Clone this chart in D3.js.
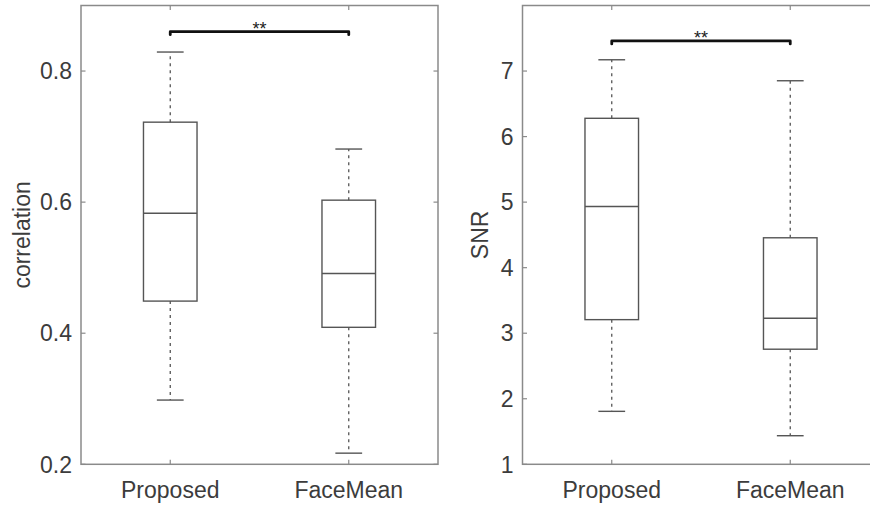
<!DOCTYPE html>
<html>
<head>
<meta charset="utf-8">
<script src="https://cdn.jsdelivr.net/npm/d3@7"></script>
<style>
  html, body { margin: 0; padding: 0; background: #fff; overflow: hidden; width: 870px; height: 506px; }
  svg { display: block; overflow: hidden; font-family: "Liberation Sans", Arial, sans-serif; }
</style>
</head>
<body>
<svg id="chart" width="870" height="506" viewBox="0 0 870 506"></svg>
<script>
// ---- data ----
const categories = ["Proposed", "FaceMean"];

// correlation box stats: [lowerWhisker, q1, median, q3, upperWhisker]
const correlationStats = [
  [0.298, 0.449, 0.583, 0.722, 0.829],
  [0.217, 0.409, 0.491, 0.603, 0.681]
];
const correlationTicks = [0.2, 0.4, 0.6, 0.8];
const correlationSignif = { from: "Proposed", to: "FaceMean", y: 0.860, label: "**" };

// SNR box stats
const snrStats = [
  [1.808, 3.207, 4.933, 6.279, 7.172],
  [1.436, 2.756, 3.229, 4.456, 6.852]
];
const snrTicks = [1, 2, 3, 4, 5, 6, 7];
const snrSignif = { from: "Proposed", to: "FaceMean", y: 7.46, label: "**" };

// ---- drawing ----
const svgRoot = d3.select("#chart");
svgRoot.append("defs").append("clipPath").attr("id", "pageClip")
  .append("rect").attr("x", 0).attr("y", 0).attr("width", 870).attr("height", 506);
const svg = svgRoot.append("g").attr("clip-path", "url(#pageClip)");

const axisColor = "#8a8a8a";
const boxColor = "#555";
const textColor = "#3c3c3c";
const fontSize = 23;

function panel(opts) {
  const { left, right, top, bottom, yDomain, ticks, tickFmt, stats, signif, ylabel, ylabelX } = opts;
  const g = svg.append("g");
  const x = d3.scaleLinear().domain([0.5, categories.length + 0.5]).range([left, right]);
  const y = d3.scaleLinear().domain(yDomain).range([bottom, top]);
  const xPos = d => x(categories.indexOf(d) + 1);
  const tl = 4.5;

  // box frame
  g.append("rect").attr("x", left).attr("y", top)
    .attr("width", right - left).attr("height", bottom - top)
    .attr("fill", "none").attr("stroke", axisColor).attr("stroke-width", 1.5);

  // y ticks (inward both sides)
  ticks.forEach(t => {
    g.append("line").attr("x1", left).attr("x2", left + tl)
      .attr("y1", y(t)).attr("y2", y(t)).attr("stroke", axisColor).attr("stroke-width", 1.2);
    g.append("line").attr("x1", right).attr("x2", right - tl)
      .attr("y1", y(t)).attr("y2", y(t)).attr("stroke", axisColor).attr("stroke-width", 1.2);
    g.append("text").attr("x", left - 9).attr("y", y(t)).attr("dy", "0.36em")
      .attr("text-anchor", "end").attr("font-size", fontSize).attr("fill", textColor)
      .text(tickFmt(t));
  });

  // x ticks (inward top & bottom) + labels
  categories.forEach(c => {
    const cx = xPos(c);
    g.append("line").attr("x1", cx).attr("x2", cx).attr("y1", bottom).attr("y2", bottom - tl)
      .attr("stroke", axisColor).attr("stroke-width", 1.2);
    g.append("line").attr("x1", cx).attr("x2", cx).attr("y1", top).attr("y2", top + tl)
      .attr("stroke", axisColor).attr("stroke-width", 1.2);
    g.append("text").attr("x", cx).attr("y", bottom + 34)
      .attr("text-anchor", "middle").attr("font-size", fontSize).attr("fill", textColor)
      .text(c);
  });

  // y label
  g.append("text")
    .attr("transform", `translate(${ylabelX},${(top + bottom) / 2}) rotate(-90)`)
    .attr("text-anchor", "middle").attr("font-size", fontSize).attr("fill", textColor)
    .text(ylabel);

  // boxes
  const boxHalf = 0.15, capHalf = 0.075;
  stats.forEach((s, i) => {
    const [lo, q1, med, q3, hi] = s;
    const c = i + 1;
    // whiskers dashed
    g.append("line").attr("x1", x(c)).attr("x2", x(c)).attr("y1", y(q3)).attr("y2", y(hi))
      .attr("stroke", boxColor).attr("stroke-width", 1.3).attr("stroke-dasharray", "3,4");
    g.append("line").attr("x1", x(c)).attr("x2", x(c)).attr("y1", y(q1)).attr("y2", y(lo))
      .attr("stroke", boxColor).attr("stroke-width", 1.3).attr("stroke-dasharray", "3,4");
    // caps
    [lo, hi].forEach(v => {
      g.append("line").attr("x1", x(c - capHalf)).attr("x2", x(c + capHalf))
        .attr("y1", y(v)).attr("y2", y(v)).attr("stroke", boxColor).attr("stroke-width", 1.4);
    });
    // box
    g.append("rect").attr("x", x(c - boxHalf)).attr("y", y(q3))
      .attr("width", x(c + boxHalf) - x(c - boxHalf)).attr("height", y(q1) - y(q3))
      .attr("fill", "none").attr("stroke", boxColor).attr("stroke-width", 1.4);
    // median
    g.append("line").attr("x1", x(c - boxHalf)).attr("x2", x(c + boxHalf))
      .attr("y1", y(med)).attr("y2", y(med)).attr("stroke", boxColor).attr("stroke-width", 1.4);
  });

  // significance bracket
  const x1 = xPos(signif.from), x2 = xPos(signif.to), yy = y(signif.y);
  g.append("path")
    .attr("d", `M${x1},${yy + 3}L${x1},${yy}L${x2},${yy}L${x2},${yy + 3}`)
    .attr("fill", "none").attr("stroke", "#111").attr("stroke-width", 2.8)
    .attr("stroke-linejoin", "round").attr("stroke-linecap", "round");
  g.append("text").attr("x", (x1 + x2) / 2).attr("y", yy + 3)
    .attr("text-anchor", "middle").attr("font-size", 18).attr("fill", "#222")
    .text(signif.label);
}

panel({
  left: 81, right: 438, top: 5.5, bottom: 464.3,
  yDomain: [0.2, 0.9], ticks: correlationTicks, tickFmt: d3.format(".1f"),
  stats: correlationStats, signif: correlationSignif,
  ylabel: "correlation", ylabelX: 30
});

panel({
  left: 522.5, right: 879.5, top: 5.5, bottom: 464.3,
  yDomain: [1, 8], ticks: snrTicks, tickFmt: d3.format("d"),
  stats: snrStats, signif: snrSignif,
  ylabel: "SNR", ylabelX: 488
});
</script>
</body>
</html>
